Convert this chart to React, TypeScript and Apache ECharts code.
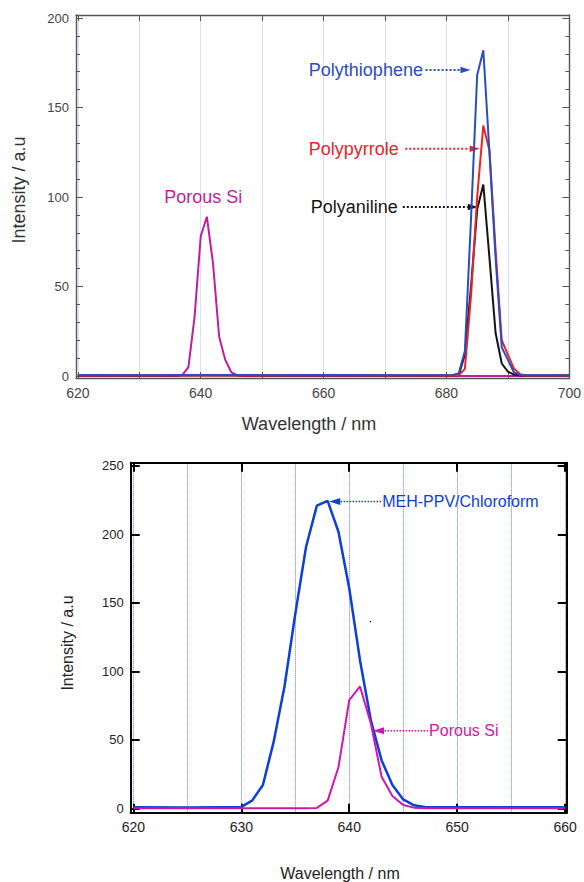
import React, { useEffect, useRef } from "react";
import * as echarts from "echarts";

const FONT = "'Liberation Sans', Arial, Helvetica, sans-serif";

// ---------- Top panel (conducting polymers) ----------
const topXLabels = [620, 640, 660, 680, 700];
const topXTicks = [620, 630, 640, 650, 660, 670, 680, 690, 700];
const topYLabels = [0, 50, 100, 150, 200];
const topYMinor = [0, 10, 20, 30, 40, 50, 60, 70, 80, 90, 100, 110, 120, 130, 140, 150, 160, 170, 180, 190, 200];

const porousTopNm = [620, 630, 636, 637, 638, 639, 640, 641, 642, 643, 644, 645, 646, 647, 660, 680, 700];
const porousTopI = [0, 0, 0, 0.5, 5, 33, 78, 89, 63, 22, 9, 2, 0.3, 0, 0, 0, 0];

const anilineNm = [620, 650, 681, 682, 683, 684, 685, 686, 687, 688, 689, 690, 691, 692, 700];
const anilineI = [0.3, 0.3, 0.3, 0.5, 12, 50, 93, 107, 66, 24, 7, 2.5, 0.8, 0.3, 0.3];

const pyrroleNm = [620, 650, 681, 682, 683, 684, 685, 686, 687, 688, 689, 690, 691, 692, 693, 700];
const pyrroleI = [0.3, 0.3, 0.3, 0.4, 4, 45, 100, 140, 126, 70, 20, 12, 4, 1, 0.3, 0.3];

const thiopheneNm = [620, 630, 640, 650, 660, 670, 681, 682, 683, 684, 685, 686, 687, 688, 689, 690, 691, 692, 700];
const thiopheneI = [0.6, 0.5, 0.6, 0.5, 0.6, 0.5, 0.6, 1.5, 14, 88, 168, 182, 125, 66, 16, 9, 2, 0.5, 0.5];

// ---------- Bottom panel (MEH-PPV) ----------
const botXLabels = [620, 630, 640, 650, 660];
const botXGrid = [620, 625, 630, 635, 640, 645, 650, 655, 660];
const botYLabels = [0, 50, 100, 150, 200, 250];

const mehNm = [620, 625, 630, 631, 632, 633, 634, 635, 636, 637, 638, 639, 640, 641, 642, 643, 644, 645, 646, 647, 650, 660];
const mehI = [0.8, 0.6, 1, 5.6, 17, 48.7, 89, 142, 191, 221, 224.5, 202, 160.7, 108, 64.5, 35, 17, 6.5, 2.2, 1, 0.8, 0.8];

const porousBotNm = [620, 630, 636, 637, 638, 639, 640, 641, 642, 643, 644, 645, 646, 647, 660];
const porousBotI = [0, 0, 0, 0.3, 5.6, 30, 79, 89, 62, 23, 9, 2.4, 0.5, 0, 0];

const C = {
  topBlue: "#2a4cc2",
  topRed: "#ea2328",
  topBlack: "#141414",
  topMag: "#c01f9c",
  botBlue: "#0b3fd6",
  botMag: "#d315aa",
};

const zip = (xs: number[], ys: number[]) => xs.map((x, i) => [x, ys[i]]);

const TOP_X: [number, number] = [619.7, 700];
const TOP_Y: [number, number] = [-1.1, 201.7];
const BOT_X: [number, number] = [619.75, 660.15];
const BOT_Y: [number, number] = [-3.2, 252.4];

const topFrame = { color: "#555", width: 1.4 };

function option(): any {
  return {
    animation: false,
    backgroundColor: "#fff",
    grid: [
      { left: 76, right: 7, top: 15, bottom: 504, containLabel: false },
      { left: 130.7, right: 17.3, top: 462.7, bottom: 69.3, containLabel: false },
    ],
    xAxis: [
      {
        gridIndex: 0, type: "value", position: "bottom", min: TOP_X[0], max: TOP_X[1],
        axisLine: { show: true, onZero: false, lineStyle: topFrame },
        axisTick: { show: true, inside: true, length: 6, customValues: topXTicks, lineStyle: { color: "#555", width: 1 } },
        axisLabel: { show: true, customValues: topXLabels, color: "#444", fontSize: 14, fontFamily: FONT, margin: 8 },
        splitLine: { show: true, lineStyle: { color: "#dcdff1", width: 1 } },
      },
      {
        gridIndex: 0, type: "value", position: "top", min: TOP_X[0], max: TOP_X[1],
        axisLine: { show: true, onZero: false, lineStyle: topFrame },
        axisTick: { show: true, inside: true, length: 6, customValues: topXTicks, lineStyle: { color: "#555", width: 1 } },
        axisLabel: { show: false },
        splitLine: { show: false },
      },
      {
        gridIndex: 1, type: "value", position: "bottom", min: BOT_X[0], max: BOT_X[1],
        axisLine: { show: true, onZero: false, lineStyle: { color: "#000", width: 2 } },
        axisTick: { show: true, inside: true, length: 9, customValues: botXLabels, lineStyle: { color: "#000", width: 2 } },
        axisLabel: { show: true, customValues: botXLabels, color: "#222", fontSize: 14, fontFamily: FONT, margin: 7 },
        splitLine: { show: false },
      },
      {
        gridIndex: 1, type: "value", position: "top", min: BOT_X[0], max: BOT_X[1],
        axisLine: { show: true, onZero: false, lineStyle: { color: "#000", width: 2 } },
        axisTick: { show: true, inside: true, length: 9, customValues: botXLabels, lineStyle: { color: "#000", width: 2 } },
        axisLabel: { show: false },
        splitLine: { show: false },
      },
      {
        gridIndex: 1, type: "value", position: "bottom", min: BOT_X[0], max: BOT_X[1],
        axisLine: { show: false },
        axisTick: { show: false, customValues: botXGrid },
        axisLabel: { show: false },
        splitLine: { show: true, lineStyle: { color: "#6a74ff", width: 1, type: [1, 1] } },
      },
    ],
    yAxis: [
      {
        gridIndex: 0, type: "value", position: "left", min: TOP_Y[0], max: TOP_Y[1],
        axisLine: { show: true, onZero: false, lineStyle: topFrame },
        axisTick: { show: true, inside: true, length: 7, customValues: topYLabels, lineStyle: { color: "#555", width: 1 } },
        axisLabel: { show: true, customValues: topYLabels, color: "#444", fontSize: 13, fontFamily: FONT, margin: 7 },
        splitLine: { show: false },
      },
      {
        gridIndex: 0, type: "value", position: "left", min: TOP_Y[0], max: TOP_Y[1],
        axisLine: { show: false },
        axisTick: { show: true, inside: true, length: 4, customValues: topYMinor, lineStyle: { color: "#555", width: 1 } },
        axisLabel: { show: false },
        splitLine: { show: false },
      },
      {
        gridIndex: 0, type: "value", position: "right", min: TOP_Y[0], max: TOP_Y[1],
        axisLine: { show: true, onZero: false, lineStyle: topFrame },
        axisTick: { show: true, inside: true, length: 7, customValues: topYLabels, lineStyle: { color: "#555", width: 1 } },
        axisLabel: { show: false },
        splitLine: { show: false },
      },
      {
        gridIndex: 0, type: "value", position: "right", min: TOP_Y[0], max: TOP_Y[1],
        axisLine: { show: false },
        axisTick: { show: true, inside: true, length: 4, customValues: topYMinor, lineStyle: { color: "#555", width: 1 } },
        axisLabel: { show: false },
        splitLine: { show: false },
      },
      {
        gridIndex: 1, type: "value", position: "left", min: BOT_Y[0], max: BOT_Y[1],
        axisLine: { show: true, onZero: false, lineStyle: { color: "#000", width: 2 } },
        axisTick: { show: true, inside: true, length: 9, customValues: botYLabels, lineStyle: { color: "#000", width: 2 } },
        axisLabel: { show: true, customValues: botYLabels, color: "#222", fontSize: 13, fontFamily: FONT, margin: 7 },
        splitLine: { show: false },
      },
      {
        gridIndex: 1, type: "value", position: "right", min: BOT_Y[0], max: BOT_Y[1],
        axisLine: { show: true, onZero: false, lineStyle: { color: "#000", width: 2 } },
        axisTick: { show: true, inside: true, length: 9, customValues: botYLabels, lineStyle: { color: "#000", width: 2 } },
        axisLabel: { show: false },
        splitLine: { show: false },
      },
    ],
    series: [
      { name: "Porous Si", type: "line", xAxisIndex: 0, yAxisIndex: 0, data: zip(porousTopNm, porousTopI), symbol: "none", lineStyle: { color: C.topMag, width: 2 } },
      { name: "Polyaniline", type: "line", xAxisIndex: 0, yAxisIndex: 0, data: zip(anilineNm, anilineI), symbol: "none", lineStyle: { color: C.topBlack, width: 2 } },
      { name: "Polypyrrole", type: "line", xAxisIndex: 0, yAxisIndex: 0, data: zip(pyrroleNm, pyrroleI), symbol: "none", lineStyle: { color: C.topRed, width: 2 } },
      { name: "Polythiophene", type: "line", xAxisIndex: 0, yAxisIndex: 0, data: zip(thiopheneNm, thiopheneI), symbol: "none", lineStyle: { color: C.topBlue, width: 2 } },
      { name: "MEH-PPV/Chloroform", type: "line", xAxisIndex: 2, yAxisIndex: 4, data: zip(mehNm, mehI), symbol: "none", lineStyle: { color: C.botBlue, width: 2.5 } },
      { name: "Porous Si (b)", type: "line", xAxisIndex: 2, yAxisIndex: 4, data: zip(porousBotNm, porousBotI), symbol: "none", lineStyle: { color: C.botMag, width: 2 } },
    ],
  };
}

// annotations in data coordinates
const topNotes = [
  { text: "Polythiophene", color: C.topBlue, textNm: 657.6, value: 171, fromNm: 676.6, toNm: 683.9 },
  { text: "Polypyrrole", color: C.topRed, textNm: 657.6, value: 127, fromNm: 673.3, toNm: 685.4 },
  { text: "Polyaniline", color: C.topBlack, textNm: 657.9, value: 94.4, fromNm: 672.9, toNm: 685.1 },
];
const botNotes = [
  { text: "MEH-PPV/Chloroform", color: C.botBlue, textNm: 643.05, value: 224, fromNm: 642.95, toNm: 638.15, size: 16 },
  { text: "Porous Si", color: C.botMag, textNm: 647.4, value: 56.7, fromNm: 647.3, toNm: 642.2, size: 16 },
];

function arrow(from: number[], to: number[], color: string, lw: number, dash: number[], headLen: number, headW: number) {
  const dx = to[0] - from[0];
  const dy = to[1] - from[1];
  const len = Math.hypot(dx, dy) || 1;
  const ux = dx / len;
  const uy = dy / len;
  const bx = to[0] - ux * headLen;
  const by = to[1] - uy * headLen;
  return [
    { type: "line", silent: true, shape: { x1: from[0], y1: from[1], x2: bx, y2: by }, style: { stroke: color, lineWidth: lw, lineDash: dash } },
    {
      type: "polygon", silent: true,
      shape: { points: [[to[0], to[1]], [bx - uy * headW, by + ux * headW], [bx + uy * headW, by - ux * headW]] },
      style: { fill: color },
    },
  ];
}

export default function App() {
  const ref = useRef<HTMLDivElement>(null);
  useEffect(() => {
    const chart = echarts.init(ref.current!, null, { renderer: "svg" });
    chart.setOption(option());
    const topPx = (x: number, y: number) => chart.convertToPixel({ xAxisIndex: 0, yAxisIndex: 0 } as any, [x, y]) as number[];
    const botPx = (x: number, y: number) => chart.convertToPixel({ xAxisIndex: 2, yAxisIndex: 4 } as any, [x, y]) as number[];

    const els: any[] = [];
    const text = (t: string, x: number, y: number, size: number, fill: string, align: string, rot = 0) => ({
      type: "text", x, y, rotation: rot, silent: true,
      style: { text: t, fontSize: size, fontFamily: FONT, fill, align, verticalAlign: "middle" },
    });

    // axis titles
    els.push(text("Intensity / a.u", 19, 190, 18, "#333", "center", Math.PI / 2));
    els.push(text("Wavelength / nm", 309, 424, 18, "#333", "center"));
    els.push(text("Intensity / a.u", 67, 643, 16, "#222", "center", Math.PI / 2));
    els.push(text("Wavelength / nm", 340, 873, 16, "#222", "center"));

    // top annotations
    const ps = topPx(640.4, 100);
    els.push(text("Porous Si", ps[0], ps[1], 18, C.topMag, "center"));
    topNotes.forEach((n) => {
      const tp = topPx(n.textNm, n.value);
      els.push(text(n.text, tp[0], tp[1], 18, n.color, "left"));
      els.push(...arrow(topPx(n.fromNm, n.value), topPx(n.toNm, n.value), n.color, 2, [2, 2], 10, 3.2));
    });

    // bottom annotations
    botNotes.forEach((n) => {
      const tp = botPx(n.textNm, n.value);
      els.push(text(n.text, tp[0], tp[1], n.size, n.color, "left"));
      els.push(...arrow(botPx(n.fromNm, n.value), botPx(n.toNm, n.value), n.color, 1.5, [1.5, 1.5], 11, 3.5));
    });
    const dot = botPx(641.9, 136.8);
    els.push({ type: "rect", silent: true, shape: { x: dot[0], y: dot[1], width: 1.2, height: 1.2 }, style: { fill: "#000" } });

    chart.setOption({ graphic: els });
    return () => chart.dispose();
  }, []);
  return (
    <div
      ref={ref}
      style={{ position: "fixed", left: 0, top: 0, width: 584, height: 882, background: "#fff" }}
    />
  );
}
